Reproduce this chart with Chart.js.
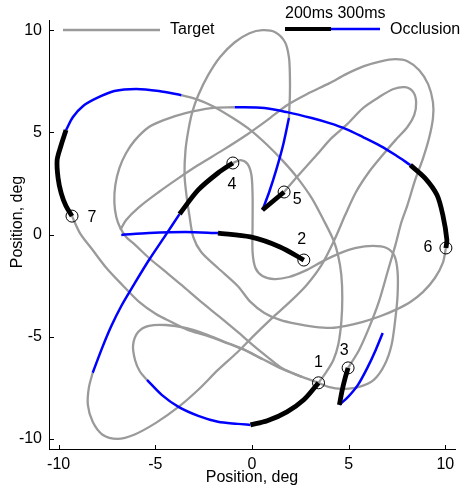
<!DOCTYPE html>
<html>
<head>
<meta charset="utf-8">
<script src="https://cdn.jsdelivr.net/npm/chart.js@4/dist/chart.umd.min.js"></script>
<style>
  html, body { margin: 0; padding: 0; background: #fff; }
  canvas { display: block; }
</style>
</head>
<body>
<canvas id="c" width="462" height="488" style="width:462px;height:488px"></canvas>
<script>
// ---- target trajectory (deg), drawn in grey ----
const targetLoopTop = [[10.03,-0.66],[9.87,-1.39],[9.46,-2.13],[8.85,-2.81],[8.19,-3.30],[7.42,-3.69],[6.66,-3.99],[5.74,-4.28],[4.87,-4.47],[4.11,-4.57],[3.24,-4.52],[2.32,-4.38],[1.45,-4.18],[0.64,-3.84],[-0.08,-3.30],[-0.74,-2.52],[-1.76,-1.64],[-2.63,-0.86],[-3.04,-0.12],[-3.24,0.95],[-3.39,1.93],[-3.49,2.91],[-3.44,4.13],[-3.29,5.11],[-3.09,5.99],[-2.78,6.82],[-2.27,7.80],[-1.66,8.68],[-0.89,9.41],[-0.13,9.85],[0.54,10.0],[1.20,9.90],[1.71,9.41],[1.91,8.68],[1.96,7.80],[1.96,6.82],[1.91,5.70]];
const targetInnerLoop = [[1.66,2.08],[2.32,2.81],[3.34,3.89],[4.11,4.72],[4.87,5.35],[5.74,6.19],[6.56,6.72],[7.32,7.12],[7.93,7.21],[8.34,6.97],[8.49,6.48],[8.39,5.84],[8.04,5.26],[7.42,4.62],[6.76,3.89],[6.05,3.06],[5.38,2.08],[4.82,0.95],[4.26,-0.27],[3.60,-1.49],[2.83,-2.47],[1.96,-3.30],[1.05,-4.08],[0.03,-5.01],[-0.74,-5.75],[-1.76,-6.63],[-2.78,-7.60],[-3.80,-8.44],[-4.97,-9.22],[-6.10,-9.80],[-6.96,-10.0],[-7.73,-9.80],[-8.24,-9.17],[-8.49,-8.34],[-8.44,-7.51],[-8.24,-6.77]];
const targetHook = [[-0.99,3.50],[-0.59,3.64],[-0.23,3.45],[-0.03,2.91],[0.03,1.93],[0.03,0.46],[0.03,-0.86],[0.18,-1.64],[0.54,-2.03],[1.15,-2.18],[1.91,-2.08],[2.73,-1.78],[3.60,-1.34],[4.46,-0.95],[5.38,-0.66],[6.25,-0.56],[6.96,-0.66],[7.37,-1.05],[7.53,-1.83],[7.53,-2.96],[7.42,-4.08],[7.22,-5.40],[6.86,-6.38],[6.30,-7.12],[5.54,-7.46],[4.62,-7.56],[3.95,-7.46],[3.44,-7.26],[2.58,-6.97],[1.56,-6.58],[0.54,-6.09],[-0.48,-5.60],[-1.40,-5.26],[-2.42,-4.87],[-3.44,-4.57],[-4.46,-4.43],[-5.33,-4.47],[-5.89,-4.77],[-6.15,-5.40],[-6.05,-6.14],[-5.79,-6.72],[-5.43,-7.12]];
const targetOuterLoop = [[4.97,-6.53],[5.54,-5.65],[6.05,-4.57],[6.56,-3.30],[7.07,-1.64],[7.42,-0.51],[7.73,0.61],[8.04,1.44],[8.44,2.67],[8.85,3.74],[9.16,4.72],[9.36,5.70],[9.36,6.48],[9.11,7.36],[8.65,8.04],[8.04,8.48],[7.42,8.58],[6.66,8.48],[5.79,8.24],[4.87,7.85],[4.01,7.41],[2.83,6.87],[1.81,6.33],[0.79,5.60],[-0.23,4.91],[-1.51,4.13],[-2.78,3.40],[-3.80,2.76],[-4.82,2.08],[-5.84,1.34],[-6.51,0.71],[-6.81,0.22]];
const targetFrom7 = [[-9.31,0.90],[-8.90,0.07],[-8.24,-0.76],[-7.53,-1.64],[-6.71,-2.47],[-5.84,-3.30],[-4.97,-3.89],[-4.16,-4.28],[-3.29,-4.68],[-2.42,-4.93],[-1.40,-5.28],[-0.48,-5.62],[0.54,-6.10]];
const targetLeftArc = [[-0.89,6.23],[-2.12,6.19],[-3.44,5.94],[-4.57,5.60],[-5.33,5.26],[-6.05,4.62],[-6.51,3.99],[-6.86,3.25],[-7.07,2.42],[-7.12,1.59],[-7.02,0.86],[-6.81,0.32],[-6.51,-0.12],[-6.10,-0.46],[-5.33,-1.15],[-4.46,-1.83],[-3.65,-2.47],[-2.63,-3.30],[-1.61,-4.08],[-0.74,-4.77],[0.03,-5.40],[0.79,-5.99],[1.56,-6.55],[2.58,-6.97]];
const targetCentre = [[3.44,-7.26],[3.85,-6.72],[4.21,-6.14],[4.46,-5.40],[4.62,-4.28],[4.67,-3.11],[4.62,-1.98],[4.46,-1.05],[4.21,-0.27],[3.70,0.71],[3.09,1.78],[2.32,2.81],[1.56,3.64],[0.79,4.38],[-0.08,5.11],[-0.99,5.70],[-2.02,6.28],[-2.88,6.63],[-3.65,6.82]];

// ---- occlusion paths: blue part, then black part ending at reappearance ----
const occ1Blue  = [[-5.43,-7.12],[-4.67,-7.85],[-3.80,-8.44],[-2.78,-8.88],[-1.76,-9.17],[-0.74,-9.27],[-0.08,-9.32]];
const occ1Black = [[-0.08,-9.32],[0.79,-9.12],[1.81,-8.68],[2.68,-8.09],[3.44,-7.26]];
const occ2Blue  = [[-6.76,-0.02],[-5.33,0.07],[-3.44,0.12],[-1.76,0.07]];
const occ2Black = [[-1.76,0.07],[-0.08,-0.12],[1.45,-0.61],[2.68,-1.25]];
const occ3Blue  = [[6.76,-4.82],[6.40,-5.65],[5.99,-6.48],[5.48,-7.36],[4.97,-7.95],[4.52,-8.34]];
const occ3Black = [[4.52,-8.34],[4.67,-7.60],[4.82,-7.02],[4.97,-6.53]];
const occ4Blue  = [[-8.24,-6.77],[-7.73,-5.50],[-7.27,-4.47],[-6.76,-3.50],[-6.15,-2.52],[-5.33,-1.25],[-4.46,-0.02],[-3.75,1.00]];
const occ4Black = [[-3.75,1.00],[-2.78,2.18],[-1.76,3.01],[-0.99,3.50]];
const occ5Blue  = [[1.91,5.70],[1.61,4.38],[1.25,3.15],[0.89,2.08],[0.54,1.20]];
const occ5Black = [[0.54,1.20],[1.10,1.64],[1.66,2.08]];
const occ6Blue  = [[-0.89,6.23],[0.64,6.19],[1.81,5.99],[3.09,5.70],[4.01,5.45],[4.87,5.16],[5.74,4.77],[6.66,4.33],[7.42,3.89],[8.19,3.40]];
const occ6Black = [[8.19,3.40],[8.95,2.76],[9.57,1.93],[9.87,0.95],[10.08,-0.27],[10.03,-0.66]];
const occ7Blue  = [[-3.65,6.82],[-4.82,7.02],[-5.99,7.12],[-7.12,7.02],[-8.04,6.67],[-8.75,6.28],[-9.26,5.75],[-9.62,5.11]];
const occ7Black = [[-9.62,5.11],[-9.87,4.38],[-10.08,3.64],[-10.03,2.76],[-9.87,2.03],[-9.62,1.39],[-9.31,0.90]];

// ---- reappearance points and their numbers ----
const reappear = [[3.44,-7.26],[2.68,-1.25],[4.97,-6.53],[-0.99,3.50],[1.66,2.08],[10.03,-0.66],[-9.31,0.90]];
const reappearLabels = ['1','2','3','4','5','6','7'];
// label offsets from each circle, px
const labelOffsets = [[0,-20],[-2,-20],[-4,-17],[-1,22],[13,8],[-18,0],[20,1]];

const axisTicks = [-10, -5, 0, 5, 10];

const GREY = '#9a9a9a', BLUE = '#0000ff', BLACK = '#000000';
const FAMILY = '"Liberation Sans", Arial, sans-serif';
const pts = a => a.map(([x, y]) => ({ x, y }));

const lineSet = (arr, color, width, order) => ({
  data: pts(arr), showLine: true, borderColor: color, backgroundColor: color,
  borderWidth: width, pointRadius: 0, pointHoverRadius: 0, tension: 0.3,
  borderJoinStyle: 'round', order
});

const datasets = [];
[targetLoopTop, targetInnerLoop, targetHook, targetOuterLoop, targetFrom7, targetLeftArc, targetCentre]
  .forEach(a => datasets.push(lineSet(a, GREY, 2.3, 4)));
[occ1Blue, occ2Blue, occ3Blue, occ4Blue, occ5Blue, occ6Blue, occ7Blue]
  .forEach(a => datasets.push(lineSet(a, BLUE, 2.5, 3)));
[occ1Black, occ2Black, occ3Black, occ4Black, occ5Black, occ6Black, occ7Black]
  .forEach(a => datasets.push(lineSet(a, BLACK, 4.8, 2)));
datasets.push({
  data: pts(reappear), showLine: false, pointStyle: 'circle', pointRadius: 6,
  pointBorderWidth: 1, pointBorderColor: BLACK, pointBackgroundColor: 'rgba(255,255,255,0)', order: 1
});

const decorations = {
  id: 'decorations',
  afterDraw(chart) {
    const { ctx, chartArea: ca } = chart;
    const sx = chart.scales.x, sy = chart.scales.y;
    ctx.save();
    // inward tick marks
    ctx.strokeStyle = BLACK; ctx.lineWidth = 1;
    ctx.beginPath();
    sx.ticks.forEach(t => {
      const p = Math.round(sx.getPixelForValue(t.value)) + 0.5;
      ctx.moveTo(p, ca.bottom); ctx.lineTo(p, ca.bottom - 4);
    });
    sy.ticks.forEach(t => {
      const p = Math.round(sy.getPixelForValue(t.value)) + 0.5;
      ctx.moveTo(ca.left, p); ctx.lineTo(ca.left + 5, p);
    });
    ctx.stroke();

    ctx.fillStyle = BLACK;
    ctx.font = '16px ' + FAMILY;
    ctx.textAlign = 'center'; ctx.textBaseline = 'middle';
    // reappearance numbers
    reappear.forEach(([x, y], i) => {
      ctx.fillText(reappearLabels[i], sx.getPixelForValue(x) + labelOffsets[i][0], sy.getPixelForValue(y) + labelOffsets[i][1]);
    });

    // legend
    ctx.lineWidth = 2.3; ctx.strokeStyle = GREY;
    ctx.beginPath(); ctx.moveTo(63, 30); ctx.lineTo(160, 30); ctx.stroke();
    ctx.lineWidth = 4; ctx.strokeStyle = BLACK;
    ctx.beginPath(); ctx.moveTo(285, 29); ctx.lineTo(331, 29); ctx.stroke();
    ctx.lineWidth = 2.5; ctx.strokeStyle = BLUE;
    ctx.beginPath(); ctx.moveTo(331, 29); ctx.lineTo(380, 29); ctx.stroke();
    ctx.textAlign = 'left';
    ctx.fillText('Target', 170, 30);
    ctx.fillText('200ms 300ms', 285, 14);
    ctx.fillText('Occlusion', 390, 30);

    // axis titles
    ctx.textAlign = 'center';
    ctx.fillText('Position, deg', 252, 478);
    ctx.translate(18, 222);
    ctx.rotate(-Math.PI / 2);
    ctx.fillText('Position, deg', 0, 0);
    ctx.restore();
  }
};

Chart.defaults.font.family = FAMILY;
Chart.defaults.font.size = 16;
Chart.defaults.color = BLACK;

new Chart(document.getElementById('c'), {
  type: 'scatter',
  data: { datasets },
  options: {
    responsive: false,
    animation: false,
    devicePixelRatio: 1,
    layout: { padding: { top: 20, right: 2, left: 0, bottom: 0 } },
    plugins: { legend: { display: false }, tooltip: { enabled: false } },
    events: [],
    scales: {
      x: {
        type: 'linear', min: -10.5, max: 10.5,
        afterBuildTicks: s => { s.ticks = axisTicks.map(v => ({ value: v })); },
        afterFit: s => { s.height = 39; },
        grid: { display: false, drawTicks: false },
        border: { display: true, color: BLACK, width: 1 },
        ticks: { padding: 6, maxRotation: 0, autoSkip: false, color: BLACK }
      },
      y: {
        type: 'linear', min: -10.5, max: 10.5,
        afterBuildTicks: s => { s.ticks = axisTicks.map(v => ({ value: v })); },
        afterFit: s => { s.width = 49; },
        grid: { display: false, drawTicks: false },
        border: { display: true, color: BLACK, width: 1 },
        ticks: { padding: 7, autoSkip: false, color: BLACK }
      }
    }
  },
  plugins: [decorations]
});
</script>
</body>
</html>
